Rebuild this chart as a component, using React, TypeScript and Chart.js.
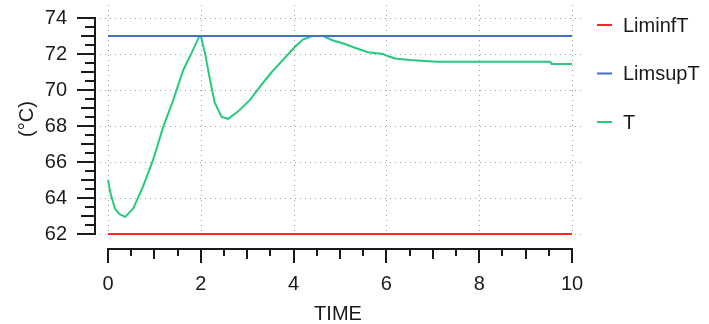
import React, { useEffect, useRef } from 'react';
import { Chart, registerables } from 'chart.js';

Chart.register(...registerables);

// ---- data ----
const seriesLabels = ['LiminfT', 'LimsupT', 'T'];
const seriesColors = ['#ff2424', '#4571c2', '#27c97b'];

const limTime = [0, 10];
const liminfValues = [62, 62];
const limsupValues = [73, 73];

const tTime = [0, 0.05, 0.15, 0.25, 0.37, 0.54, 0.75, 0.97, 1.19, 1.4, 1.62, 1.8, 1.96, 2.0, 2.09, 2.2, 2.3, 2.45, 2.59, 2.8, 3.06, 3.28, 3.53, 3.78, 4.03, 4.2, 4.4, 4.64, 4.85, 5.06, 5.32, 5.6, 5.93, 6.01, 6.19, 6.5, 7.08, 9.53, 9.56, 10];
const tValues = [65.0, 64.3, 63.4, 63.1, 62.95, 63.4, 64.6, 66.1, 67.95, 69.4, 71.1, 72.05, 72.95, 73.0, 72.05, 70.55, 69.3, 68.5, 68.4, 68.8, 69.45, 70.2, 71.0, 71.7, 72.4, 72.8, 73.0, 73.0, 72.75, 72.6, 72.35, 72.1, 72.0, 71.9, 71.75, 71.67, 71.57, 71.57, 71.45, 71.45];

const xTickValues = [0, 2, 4, 6, 8, 10];
const yTickValues = [62, 64, 66, 68, 70, 72, 74];
const xTitle = 'TIME';
const yTitle = '(°C)';

const FONT = '"Liberation Sans", Arial, sans-serif';
const TEXT = '#1a1a1a';

const pts = (xs: number[], ys: number[]) => xs.map((x, i) => ({ x, y: ys[i] }));

const customPlugin = {
  id: 'customAxes',
  beforeDatasetsDraw(chart: any) {
    const { ctx, chartArea } = chart;
    const x = chart.scales.x;
    const y = chart.scales.y;
    ctx.save();
    ctx.strokeStyle = '#a0a0a0';
    ctx.lineWidth = 1;
    ctx.setLineDash([1, 4]);
    ctx.beginPath();
    for (const v of yTickValues) {
      const py = Math.round(y.getPixelForValue(v)) + 0.5;
      ctx.moveTo(chartArea.left - 8, py);
      ctx.lineTo(chartArea.right + 11, py);
    }
    for (const v of xTickValues) {
      const px = Math.round(x.getPixelForValue(v)) + 0.5;
      ctx.moveTo(px, chartArea.top - 13);
      ctx.lineTo(px, chartArea.bottom);
    }
    ctx.stroke();
    ctx.restore();
  },
  afterDraw(chart: any) {
    const { ctx, chartArea } = chart;
    const x = chart.scales.x;
    const y = chart.scales.y;
    ctx.save();
    ctx.strokeStyle = '#1a1a1a';
    ctx.lineWidth = 2;
    ctx.setLineDash([]);
    // y axis
    const ax = chartArea.left - 13;
    ctx.beginPath();
    ctx.moveTo(ax, y.getPixelForValue(74) - 1);
    ctx.lineTo(ax, y.getPixelForValue(62) + 1);
    for (let v = 62; v <= 74.001; v += 0.5) {
      const py = Math.round(y.getPixelForValue(v));
      const len = v % 2 === 0 ? 18 : v % 1 === 0 ? 14 : 10;
      ctx.moveTo(ax, py);
      ctx.lineTo(ax - len, py);
    }
    // x axis
    const ay = chartArea.bottom + 15;
    ctx.moveTo(x.getPixelForValue(0) - 1, ay);
    ctx.lineTo(x.getPixelForValue(10) + 1, ay);
    for (let v = 0; v <= 10.001; v += 0.5) {
      const px = Math.round(x.getPixelForValue(v));
      const len = v % 2 === 0 ? 14 : v % 1 === 0 ? 10 : 7;
      ctx.moveTo(px, ay);
      ctx.lineTo(px, ay + len);
    }
    ctx.stroke();

    // axis titles
    ctx.fillStyle = TEXT;
    ctx.font = `20px ${FONT}`;
    ctx.textAlign = 'center';
    ctx.textBaseline = 'middle';
    ctx.fillText(xTitle, (chartArea.left + chartArea.right) / 2 - 2, 314);
    ctx.save();
    ctx.translate(27, 119);
    ctx.rotate(-Math.PI / 2);
    ctx.fillText(yTitle, 0, 0);
    ctx.restore();

    // legend
    ctx.textAlign = 'left';
    chart.data.datasets.forEach((ds: any, i: number) => {
      const ly = 25 + i * 48.5;
      ctx.strokeStyle = ds.borderColor;
      ctx.lineWidth = 2;
      ctx.beginPath();
      ctx.moveTo(597, ly);
      ctx.lineTo(612, ly);
      ctx.stroke();
      ctx.fillStyle = TEXT;
      ctx.fillText(ds.label, 623, ly + 1);
    });
    ctx.restore();
  },
};

export default function App() {
  const ref = useRef<HTMLCanvasElement>(null);
  useEffect(() => {
    if (!ref.current) return;
    const common = { borderWidth: 2, pointRadius: 0, fill: false, clip: false, tension: 0 };
    const chart = new Chart(ref.current, {
      type: 'line',
      data: {
        datasets: [
          { label: seriesLabels[0], data: pts(limTime, liminfValues), borderColor: seriesColors[0], backgroundColor: seriesColors[0], ...common },
          { label: seriesLabels[1], data: pts(limTime, limsupValues), borderColor: seriesColors[1], backgroundColor: seriesColors[1], ...common },
          { label: seriesLabels[2], data: pts(tTime, tValues), borderColor: seriesColors[2], backgroundColor: seriesColors[2], ...common },
        ],
      },
      options: {
        animation: false,
        responsive: false,
        events: [],
        layout: { padding: { left: 0, right: 137, top: 18, bottom: 0 } },
        plugins: { legend: { display: false }, tooltip: { enabled: false } },
        scales: {
          x: {
            type: 'linear',
            min: 0,
            max: 10,
            grid: { display: false, drawTicks: false },
            border: { display: false },
            ticks: { stepSize: 2, maxRotation: 0, padding: 38, color: TEXT, font: { family: FONT, size: 20 } },
            title: { display: false },
            afterFit: (s: any) => { s.height = 90; s.paddingLeft = 0; s.paddingRight = 0; },
          },
          y: {
            type: 'linear',
            min: 62,
            max: 74,
            grid: { display: false, drawTicks: false },
            border: { display: false },
            ticks: { stepSize: 2, padding: 41, color: TEXT, font: { family: FONT, size: 20 } },
            title: { display: false },
            afterFit: (s: any) => { s.width = 108; s.paddingTop = 0; s.paddingBottom = 0; },
          },
        },
      },
      plugins: [customPlugin],
    } as any);
    return () => chart.destroy();
  }, []);
  return (
    <div style={{ position: 'absolute', left: 0, top: 0, width: 709, height: 324, background: '#fff' }}>
      <canvas ref={ref} width={709} height={324} style={{ display: 'block' }} />
    </div>
  );
}
